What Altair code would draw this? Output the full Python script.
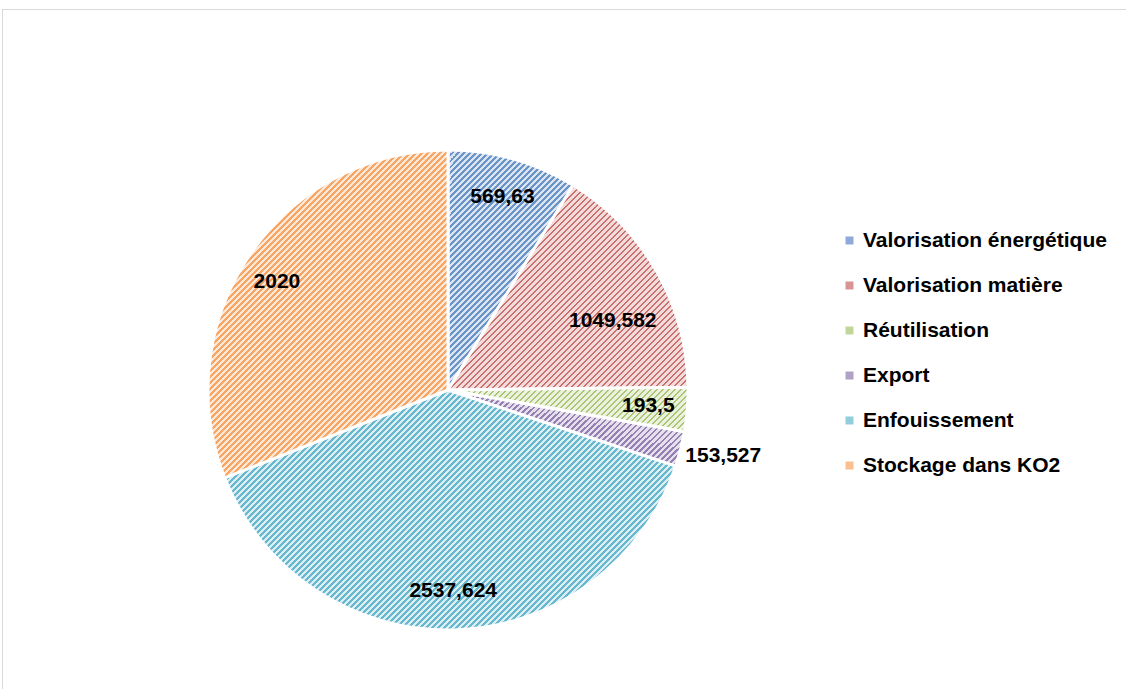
import math
import altair as alt
import pandas as pd

categories = ["Valorisation énergétique", "Valorisation matière", "Réutilisation",
              "Export", "Enfouissement", "Stockage dans KO2"]
values = [569.63, 1049.582, 193.5, 153.527, 2537.624, 2020]
labels = ["569,63", "1049,582", "193,5", "153,527", "2537,624", "2020"]
stripe_colors = ["#6A93C8", "#CC6E6C", "#AAC673", "#9480B2", "#67B8CE", "#F8A462"]
back_colors = ["#DCE6F2", "#F2DCDB", "#EBF1DE", "#E5E0EC", "#DAEEF3", "#FDE9D9"]
mix_colors = ["#8EAADB", "#D99594", "#C2D69B", "#B2A1C7", "#92CDDC", "#FABF8F"]

W, H = 1126, 689
CX, CY, R = 448, 390, 240
FONT = "Liberation Sans"
PERIOD = 6 / math.sqrt(2)

total = sum(values)
rows = []
cum = 0.0
for c, v, l in zip(categories, values, labels):
    rows.append(dict(cat=c, value=v, label=l, start=cum, end=cum + v, mid=cum + v / 2))
    cum += v
df = pd.DataFrame(rows)

theta_scale = alt.Scale(domain=[0, total], range=[0, 2 * math.pi])


def sector_bbox(a0, a1):
    pts = [(0.0, 0.0), (R * math.sin(a0), -R * math.cos(a0)), (R * math.sin(a1), -R * math.cos(a1))]
    for k in range(5):
        a = k * math.pi / 2
        if a0 <= a <= a1:
            pts.append((R * math.sin(a), -R * math.cos(a)))
    xs = [p[0] for p in pts]
    ys = [p[1] for p in pts]
    return max(xs) - min(xs), max(ys) - min(ys)


def stripe_gradient(a0, a1, fg, bg, frac=0.4):
    bw, bh = sector_bbox(a0, a1)
    r = bh / bw
    k = (1 + r) / (1 + r * r)
    length = (bw + bh) / math.sqrt(2)
    n = max(1, math.ceil(length / PERIOD))
    k = k * (n * PERIOD) / length
    stops = []
    for i in range(n):
        o0 = i / n
        o1 = (i + frac) / n
        o2 = (i + 1) / n
        stops += [
            alt.GradientStop(color=fg, offset=o0),
            alt.GradientStop(color=fg, offset=o1),
            alt.GradientStop(color=bg, offset=o1),
            alt.GradientStop(color=bg, offset=o2),
        ]
    return alt.LinearGradient(gradient="linear", stops=stops, x1=0, y1=0, x2=k, y2=k * r)


base = alt.Chart(df).mark_arc(outerRadius=R, stroke="white", strokeWidth=3).encode(
    theta=alt.Theta("start:Q", stack=None, scale=theta_scale),
    theta2="end:Q",
    x=alt.value(CX),
    y=alt.value(CY),
    color=alt.Color(
        "cat:N",
        scale=alt.Scale(domain=categories, range=mix_colors),
        sort=categories,
        legend=alt.Legend(
            orient="none", legendX=839, legendY=230, title=None,
            symbolType="square", symbolSize=64, symbolStrokeWidth=0,
            labelFont=FONT, labelFontSize=21, labelFontWeight="bold",
            labelColor="black", rowPadding=23, labelOffset=3, labelLimit=400,
        ),
    ),
)

layers = [base]
for i, c in enumerate(categories):
    a0 = rows[i]["start"] / total * 2 * math.pi
    a1 = rows[i]["end"] / total * 2 * math.pi
    grad = stripe_gradient(a0, a1, stripe_colors[i], back_colors[i])
    layers.append(
        alt.Chart(df).transform_filter(alt.datum.cat == c)
        .mark_arc(outerRadius=R, fill=grad, stroke="white", strokeWidth=3)
        .encode(
            theta=alt.Theta("start:Q", stack=None, scale=theta_scale),
            theta2="end:Q",
            x=alt.value(CX),
            y=alt.value(CY),
        )
    )


def label_layer(test, radius, dx=0, dy=0):
    return alt.Chart(df).transform_filter(test).mark_text(
        radius=radius, font=FONT, fontSize=21, fontWeight="bold", color="black", dx=dx, dy=dy
    ).encode(
        theta=alt.Theta("mid:Q", stack=None, scale=theta_scale),
        x=alt.value(CX), y=alt.value(CY),
        text="label:N",
    )


text_main = label_layer(
    (alt.datum.cat != "Export") & (alt.datum.cat != "Valorisation matière")
    & (alt.datum.cat != "Stockage dans KO2"), 201)
text_red = label_layer(alt.datum.cat == "Valorisation matière", 201, dx=-10, dy=30)
text_orange = label_layer(alt.datum.cat == "Stockage dans KO2", 201, dx=-5, dy=5)
text_out = label_layer(alt.datum.cat == "Export", 284, dx=0, dy=-4)

frame = alt.Chart(df).mark_rect(fillOpacity=0, stroke="#D9D9D9", strokeWidth=1).encode(
    x=alt.value(2.5), y=alt.value(9.5), x2=alt.value(1300), y2=alt.value(900)
)

chart = alt.layer(frame, *layers, text_main, text_red, text_orange, text_out).properties(
    width=W, height=H, background="white", padding=0,
    autosize=alt.AutoSizeParams(type="none"),
).configure_view(strokeWidth=0)

chart.save("out.html", embed_options={"renderer": "svg", "actions": False})
